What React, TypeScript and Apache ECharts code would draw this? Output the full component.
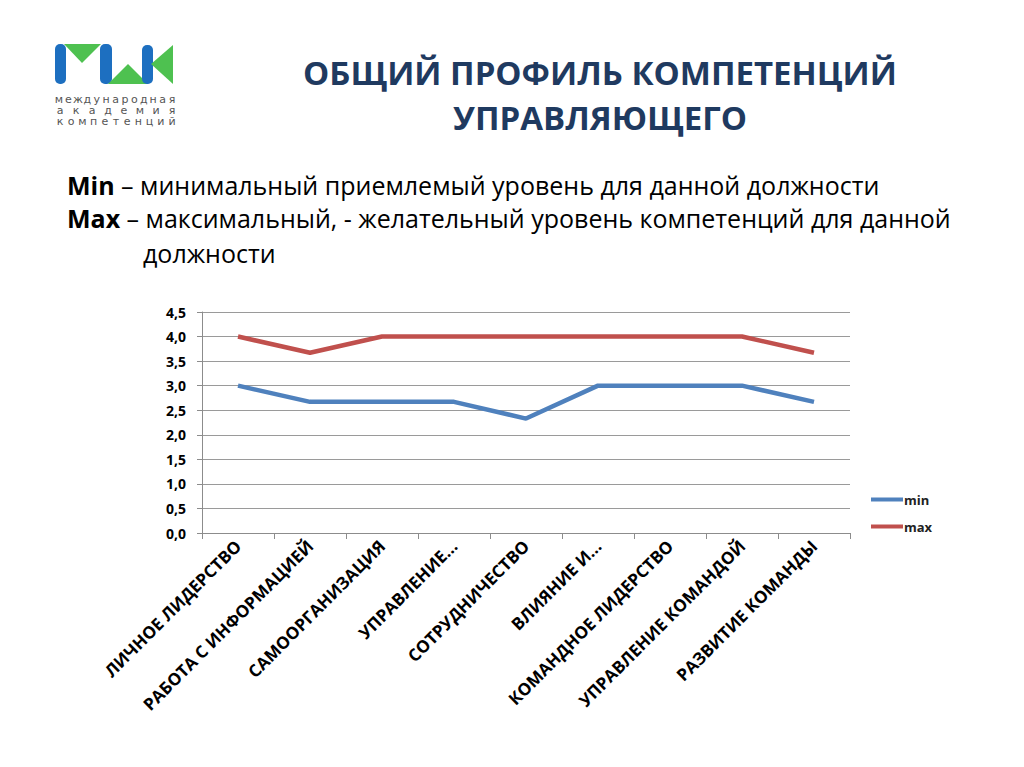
import React, { useEffect, useRef } from "react";
import * as echarts from "echarts";

const categories = [
  "ЛИЧНОЕ ЛИДЕРСТВО",
  "РАБОТА С ИНФОРМАЦИЕЙ",
  "САМООРГАНИЗАЦИЯ",
  "УПРАВЛЕНИЕ...",
  "СОТРУДНИЧЕСТВО",
  "ВЛИЯНИЕ И...",
  "КОМАНДНОЕ ЛИДЕРСТВО",
  "УПРАВЛЕНИЕ КОМАНДОЙ",
  "РАЗВИТИЕ КОМАНДЫ",
];
const minValues = [3.0, 2.67, 2.67, 2.67, 2.33, 3.0, 3.0, 3.0, 2.67];
const maxValues = [4.0, 3.67, 4.0, 4.0, 4.0, 4.0, 4.0, 4.0, 3.67];

const titleLines = ["ОБЩИЙ ПРОФИЛЬ КОМПЕТЕНЦИЙ", "УПРАВЛЯЮЩЕГО"];
const logoLines = ["международная", "академия", "компетенций"];

const BLUE = "#4F81BD";
const RED = "#C0504D";
const LOGO_BLUE = "#1D6FC0";
const LOGO_GREEN = "#4EC150";

function spreadText(text: string, x0: number, x1: number, y: number) {
  const chars = Array.from(text);
  const step = (x1 - x0) / (chars.length - 1);
  return chars.map((c, i) => ({
    type: "text",
    x: x0 + i * step,
    y,
    style: {
      text: c,
      fontSize: 11,
      fill: "#555",
      fontFamily: "'DejaVu Sans', sans-serif",
      align: "center",
      verticalAlign: "middle",
    },
  }));
}

export default function App() {
  const ref = useRef<HTMLDivElement>(null);
  useEffect(() => {
    if (!ref.current) return;
    const chart = echarts.init(ref.current, undefined, { renderer: "svg" });
    const font = "'Open Sans', sans-serif";
    chart.setOption({
      animation: false,
      backgroundColor: "#ffffff",
      textStyle: { fontFamily: font },
      grid: { left: 202, right: 174, top: 312, bottom: 234, containLabel: false },
      legend: {
        orient: "vertical",
        left: 866,
        top: 488,
        itemGap: 14,
        itemWidth: 32,
        itemHeight: 4,
        icon: "rect",
        textStyle: { fontSize: 13, fontWeight: "bold", color: "#222", fontFamily: font, padding: [0, 0, 0, -4] },
        data: ["min", "max"],
      },
      xAxis: {
        type: "category",
        data: categories,
        boundaryGap: true,
        axisLine: { lineStyle: { color: "#8c8c8c" } },
        axisTick: { show: true, length: 6, lineStyle: { color: "#8c8c8c" } },
        axisLabel: {
          rotate: 45,
          interval: 0,
          fontSize: 17,
          fontWeight: "bold",
          color: "#000",
          margin: 10,
          fontFamily: font,
        },
      },
      yAxis: {
        type: "value",
        min: 0,
        max: 4.5,
        interval: 0.5,
        axisLine: { show: true, lineStyle: { color: "#8c8c8c" } },
        axisTick: { show: true, length: 5, lineStyle: { color: "#8c8c8c" } },
        splitLine: { lineStyle: { color: "#9a9a9a" } },
        axisLabel: {
          fontSize: 14,
          fontWeight: "bold",
          color: "#000",
          margin: 16,
          fontFamily: font,
          formatter: (v: number) => v.toFixed(1).replace(".", ","),
        },
      },
      series: [
        {
          name: "min",
          type: "line",
          data: minValues,
          symbol: "none",
          lineStyle: { width: 4.5, color: BLUE },
          itemStyle: { color: BLUE },
        },
        {
          name: "max",
          type: "line",
          data: maxValues,
          symbol: "none",
          lineStyle: { width: 4.5, color: RED },
          itemStyle: { color: RED },
        },
      ],
      graphic: [
        // Logo shapes
        { type: "rect", shape: { x: 55, y: 44, width: 11, height: 40, r: 5 }, style: { fill: LOGO_BLUE } },
        { type: "polygon", shape: { points: [[64, 44], [101, 44], [82, 63]] }, style: { fill: LOGO_GREEN } },
        { type: "rect", shape: { x: 100, y: 44, width: 12, height: 40, r: 5 }, style: { fill: LOGO_BLUE } },
        { type: "polygon", shape: { points: [[108, 84], [148, 84], [128, 64]] }, style: { fill: LOGO_GREEN } },
        { type: "rect", shape: { x: 142, y: 45, width: 11, height: 39, r: 5 }, style: { fill: LOGO_BLUE } },
        { type: "polygon", shape: { points: [[151, 64], [173, 45], [173, 84]] }, style: { fill: LOGO_GREEN } },
        ...spreadText(logoLines[0], 59, 172, 99),
        ...spreadText(logoLines[1], 60, 172, 110),
        ...spreadText(logoLines[2], 60, 172, 121),
        // Title
        {
          type: "text",
          x: 600,
          y: 72,
          style: {
            text: titleLines[0],
            fontSize: 33,
            fontWeight: "bold",
            fill: "#1F3A60",
            fontFamily: font,
            align: "center",
            verticalAlign: "middle",
          },
        },
        {
          type: "text",
          x: 600,
          y: 117,
          style: {
            text: titleLines[1],
            fontSize: 33,
            fontWeight: "bold",
            fill: "#1F3A60",
            fontFamily: font,
            align: "center",
            verticalAlign: "middle",
          },
        },
        // Description
        {
          type: "text",
          x: 67,
          y: 185,
          style: {
            text: "{b|Min} – минимальный приемлемый уровень для данной должности",
            fontSize: 25,
            fill: "#000",
            fontFamily: font,
            verticalAlign: "middle",
            rich: { b: { fontWeight: "bold", fontSize: 25, fontFamily: font, fill: "#000" } },
          },
        },
        {
          type: "text",
          x: 67,
          y: 218,
          style: {
            text: "{b|Max} – максимальный, - желательный уровень компетенций для данной",
            fontSize: 25,
            fill: "#000",
            fontFamily: font,
            verticalAlign: "middle",
            rich: { b: { fontWeight: "bold", fontSize: 25, fontFamily: font, fill: "#000" } },
          },
        },
        {
          type: "text",
          x: 143,
          y: 253,
          style: {
            text: "должности",
            fontSize: 25,
            fill: "#000",
            fontFamily: font,
            verticalAlign: "middle",
          },
        },
      ],
    });
    return () => chart.dispose();
  }, []);
  return (
    <div
      ref={ref}
      style={{ position: "absolute", left: 0, top: 0, width: 1024, height: 767 }}
    />
  );
}
